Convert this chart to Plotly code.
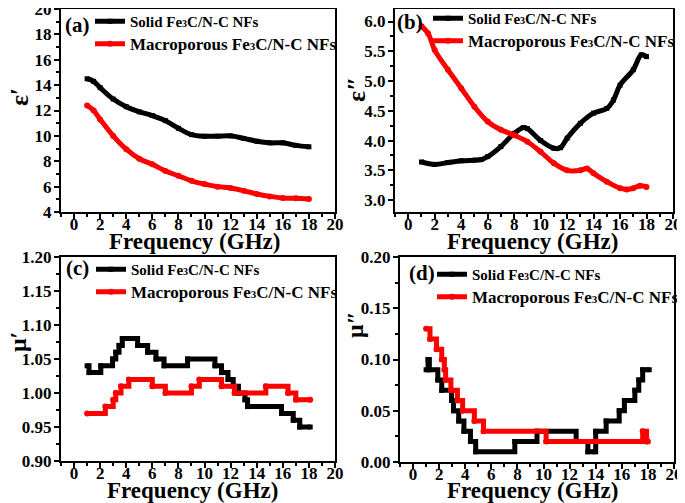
import plotly.graph_objects as go

# ---------------------------------------
# DATA
# ---------------------------------------
freq_ab = [1, 1.5, 2, 3, 4, 5, 6, 7, 8, 9, 10, 11, 12, 13, 14, 15, 16, 17, 18]

eps1_solid = [14.5, 14.3, 13.8, 12.9, 12.3, 11.9, 11.6, 11.2, 10.6, 10.1, 9.97, 9.98, 10.0, 9.8, 9.58, 9.45, 9.45, 9.25, 9.14]
eps1_macro = [12.4, 12.0, 11.3, 10.0, 8.95, 8.2, 7.76, 7.24, 6.85, 6.46, 6.2, 6.0, 5.89, 5.68, 5.42, 5.23, 5.1, 5.08, 5.03]

freq_b_solid = [1, 2, 3, 4, 5, 5.5, 6, 7, 8, 8.7, 9, 10, 11, 11.5, 12, 13, 14, 15, 15.5, 16, 17, 17.6, 18]
eps2_solid = [3.64, 3.60, 3.63, 3.66, 3.67, 3.68, 3.73, 3.90, 4.12, 4.22, 4.20, 4.00, 3.87, 3.88, 4.04, 4.29, 4.46, 4.54, 4.68, 4.93, 5.19, 5.44, 5.41]
freq_b_macro = [1, 1.5, 2, 3, 4, 5, 6, 7, 8, 9, 10, 11, 12, 13, 13.5, 14, 15, 16, 16.5, 17, 17.5, 18]
eps2_macro = [5.92, 5.8, 5.52, 5.19, 4.88, 4.57, 4.32, 4.18, 4.09, 3.98, 3.81, 3.62, 3.5, 3.5, 3.53, 3.45, 3.31, 3.2, 3.18, 3.2, 3.24, 3.22]

# step data: frequency where each value starts, and the value
freq_c_solid = [1.0, 1.15, 2.05, 2.95, 3.2, 3.45, 3.7, 4.87, 5.64, 6.28, 6.9, 8.7, 10.8, 11.3, 11.8, 12.2, 12.6, 13.1, 13.3, 15.9, 16.8, 17.3, 18.1]
mu1_solid = [1.04, 1.03, 1.04, 1.05, 1.06, 1.07, 1.08, 1.07, 1.06, 1.05, 1.04, 1.05, 1.04, 1.03, 1.02, 1.01, 1.00, 0.99, 0.98, 0.97, 0.96, 0.95, 0.95]
freq_c_macro = [1.0, 2.4, 3.0, 3.2, 3.6, 4.2, 6.0, 7.0, 9.0, 9.6, 11.3, 12.3, 14.7, 16.4, 17.0, 18.1]
mu1_macro = [0.97, 0.98, 0.99, 1.00, 1.01, 1.02, 1.01, 1.00, 1.01, 1.02, 1.01, 1.00, 1.01, 1.00, 0.99, 0.99]

freq_d_solid = [1.0, 1.15, 1.25, 1.9, 2.2, 2.95, 3.1, 3.5, 3.9, 4.4, 4.8, 7.8, 9.5, 12.5, 13.4, 13.9, 14.0, 14.8, 15.8, 16.2, 17.0, 17.3, 17.6, 18.1]
mu2_solid = [0.09, 0.10, 0.09, 0.08, 0.07, 0.06, 0.05, 0.04, 0.03, 0.02, 0.01, 0.02, 0.03, 0.02, 0.01, 0.01, 0.03, 0.04, 0.05, 0.06, 0.07, 0.08, 0.09, 0.09]
freq_d_macro = [1.0, 1.3, 1.8, 2.2, 2.4, 2.5, 2.9, 3.4, 3.8, 4.7, 5.4, 10.2, 17.6, 17.9, 18.0]
mu2_macro = [0.13, 0.12, 0.11, 0.10, 0.09, 0.08, 0.07, 0.06, 0.05, 0.04, 0.03, 0.02, 0.03, 0.02, 0.02]

SOLID = "Solid Fe<span style='font-size:10px'>3</span>C/N-C NFs"
MACRO = "<span style='font-size:17px'>Macroporous Fe<span style='font-size:11px'>3</span>C/N-C NFs</span>"

FONT = "Liberation Serif"

# page body adds an 8px offset, figure is sized to fit the window
W, H, OFF = 677, 495, 8


def px(x, y):
    # window pixel -> paper fraction
    return (x - OFF) / W, 1 - (y - OFF) / H


fig = go.Figure()


def add_pair(xs, ys, xm, ym, ax, leg, shape):
    fig.add_trace(go.Scatter(
        x=xs, y=ys, name=SOLID, mode="lines+markers",
        line=dict(color="black", width=5, shape=shape),
        marker=dict(symbol="square", size=5, color="black"),
        xaxis="x" + ax, yaxis="y" + ax, legend=leg
    ))
    fig.add_trace(go.Scatter(
        x=xm, y=ym, name=MACRO, mode="lines+markers",
        line=dict(color="red", width=5, shape=shape),
        marker=dict(symbol="circle", size=6, color="red"),
        xaxis="x" + ax, yaxis="y" + ax, legend=leg
    ))


add_pair(freq_ab, eps1_solid, freq_ab, eps1_macro, "", "legend", "spline")
add_pair(freq_b_solid, eps2_solid, freq_b_macro, eps2_macro, "2", "legend2", "spline")
add_pair(freq_c_solid, mu1_solid, freq_c_macro, mu1_macro, "3", "legend3", "hv")
add_pair(freq_d_solid, mu2_solid, freq_d_macro, mu2_macro, "4", "legend4", "hv")

# ---------------------------------------
# AXES
# ---------------------------------------
tickfont = dict(family=FONT, size=17, color="black", weight="bold")


def xaxis(x0, x1, anchor):
    return dict(
        domain=[px(x0, 0)[0], px(x1, 0)[0]], anchor=anchor,
        range=[-1, 20], dtick=2, tick0=0,
        showline=True, linecolor="black", linewidth=2, mirror=True,
        ticks="outside", ticklen=5, tickwidth=2, tickcolor="black",
        minor=dict(ticks="outside", ticklen=3, dtick=1, tickcolor="black", tickwidth=1.5),
        showgrid=False, zeroline=False, tickfont=tickfont, automargin=False,
        ticklabelstandoff=-9, ticklabeloverflow="allow"
    )


def yaxis(y0, y1, anchor, rng, dtick, fmt, minor):
    return dict(
        domain=[px(0, y1)[1], px(0, y0)[1]], anchor=anchor,
        range=rng, dtick=dtick, tickformat=fmt,
        showline=True, linecolor="black", linewidth=2, mirror=True,
        ticks="outside", ticklen=5, tickwidth=2, tickcolor="black",
        minor=dict(ticks="outside", ticklen=3, dtick=minor, tickcolor="black", tickwidth=1.5),
        showgrid=False, zeroline=False, tickfont=tickfont, automargin=False,
        ticklabeloverflow="allow", ticklabelstandoff=-1
    )


def legend(x, y):
    lx, ly = px(x, y)
    return dict(
        x=lx, y=ly, xanchor="left", yanchor="top", bgcolor="rgba(0,0,0,0)",
        font=dict(family=FONT, size=15, color="black", weight="bold"),
        itemwidth=30, tracegroupgap=0, itemsizing="trace"
    )


fig.update_layout(
    width=W, height=H,
    margin=dict(l=0, r=0, t=0, b=0, autoexpand=False),
    plot_bgcolor="white", paper_bgcolor="white",
    showlegend=True,
    xaxis=xaxis(61, 335, "y"),
    yaxis=yaxis(9, 212, "x", [4, 20], 2, "d", 1),
    xaxis2=xaxis(395, 673, "y2"),
    yaxis2=yaxis(9, 212, "x2", [2.8, 6.21], 0.5, ".1f", 0.25),
    xaxis3=xaxis(61, 335, "y3"),
    yaxis3=yaxis(257, 461, "x3", [0.9, 1.2], 0.05, ".2f", 0.025),
    xaxis4=xaxis(400, 674, "y4"),
    yaxis4=yaxis(257, 462, "x4", [0, 0.2], 0.05, ".2f", 0.025),
    legend=legend(90, 5),
    legend2=legend(428, 2),
    legend3=legend(91, 253),
    legend4=legend(432, 258),
)


def label(text, x, y, size, angle=0):
    ax, ay = px(x, y)
    fig.add_annotation(
        text="<b>" + text + "</b>", xref="paper", yref="paper", x=ax, y=ay,
        xanchor="center", yanchor="middle", showarrow=False, textangle=angle,
        font=dict(family=FONT, size=size, color="black")
    )


# panel labels
label("(a)", 77, 25, 21)
label("(b)", 410, 22, 21)
label("(c)", 77, 268, 21)
label("(d)", 422, 273, 21)

# axis titles
for xc, yc in [(194, 242), (532, 242), (192, 490), (532, 490)]:
    label("Frequency (GHz)", xc, yc, 23)

label("ε′", 19, 97, 26, -90)
label("ε″", 357, 90, 26, -90)
label("μ′", 18, 342, 24, -90)
label("μ″", 355, 325, 24, -90)

fig.write_html("out.html")
